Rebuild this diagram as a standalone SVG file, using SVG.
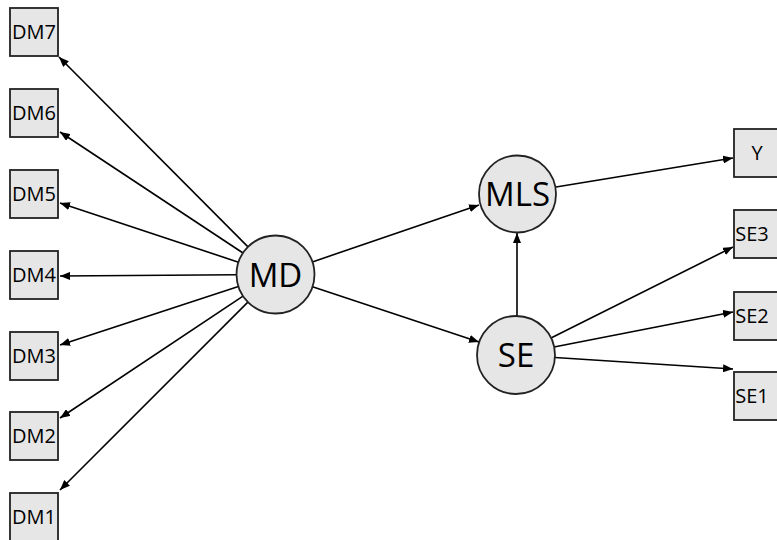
<svg xmlns="http://www.w3.org/2000/svg" width="777" height="540" viewBox="0 0 777 540">
  <defs>
    <marker id="arrow" markerUnits="userSpaceOnUse" markerWidth="10" markerHeight="8" refX="10" refY="4" orient="auto">
      <path d="M0,0 L10,4 L0,8 z" fill="#000"/>
    </marker>
    <style>
      .box { fill: #e6e6e6; stroke: #222; stroke-width: 1.8; }
      .circ { fill: #e6e6e6; stroke: #222; stroke-width: 1.8; }
      .lbl { font-family: "Open Sans", "Noto Sans", sans-serif; font-size: 20px; fill: #000; text-anchor: middle; }
      .big { font-family: "Open Sans", "Noto Sans", sans-serif; font-size: 33px; fill: #000; text-anchor: middle; }
      .edge { stroke: #000; stroke-width: 1.6; fill: none; marker-end: url(#arrow); }
    </style>
  </defs>
  <rect width="777" height="540" fill="#fff"/>

  <g id="connectors">
    <line class="edge" x1="248.0" y1="246.9" x2="59" y2="57"/>
    <line class="edge" x1="243.0" y1="253.0" x2="60" y2="132"/>
    <line class="edge" x1="238.5" y1="262.2" x2="60" y2="203"/>
    <line class="edge" x1="236.5" y1="274.8" x2="60" y2="276"/>
    <line class="edge" x1="238.4" y1="286.6" x2="60" y2="345"/>
    <line class="edge" x1="243.0" y1="296.1" x2="60" y2="418"/>
    <line class="edge" x1="247.9" y1="302.1" x2="60" y2="490"/>
    <line class="edge" x1="312.4" y1="261.9" x2="479" y2="205"/>
    <line class="edge" x1="312.5" y1="286.8" x2="479" y2="342"/>
    <line class="edge" x1="517" y1="316" x2="517" y2="233"/>
    <line class="edge" x1="556" y1="187" x2="733" y2="158"/>
    <line class="edge" x1="551" y1="338" x2="733" y2="247"/>
    <line class="edge" x1="554" y1="347" x2="733" y2="312"/>
    <line class="edge" x1="555" y1="357.5" x2="733" y2="369"/>
  </g>

  <g id="DM7"><rect class="box" x="10" y="8" width="48" height="48"/><text class="lbl" x="34" y="39">DM7</text></g>
  <g id="DM6"><rect class="box" x="10" y="89" width="48" height="48"/><text class="lbl" x="34" y="120">DM6</text></g>
  <g id="DM5"><rect class="box" x="10" y="170" width="48" height="48"/><text class="lbl" x="34" y="201">DM5</text></g>
  <g id="DM4"><rect class="box" x="10" y="251" width="48" height="48"/><text class="lbl" x="34" y="282">DM4</text></g>
  <g id="DM3"><rect class="box" x="10" y="332" width="48" height="48"/><text class="lbl" x="34" y="363">DM3</text></g>
  <g id="DM2"><rect class="box" x="10" y="412" width="48" height="48"/><text class="lbl" x="34" y="443">DM2</text></g>
  <g id="DM1"><rect class="box" x="10" y="493" width="48" height="48"/><text class="lbl" x="34" y="524">DM1</text></g>

  <g id="MD"><circle class="circ" cx="275.5" cy="274.5" r="39"/><text class="big" x="275.5" y="286.5">MD</text></g>
  <g id="MLS"><circle class="circ" cx="517.5" cy="194" r="38.5"/><text class="big" x="517.5" y="206">MLS</text></g>
  <g id="SE"><circle class="circ" cx="516" cy="355" r="39"/><text class="big" x="516" y="367">SE</text></g>

  <g id="Y"><rect class="box" x="734" y="129" width="48" height="48"/><text class="lbl" x="757" y="159.5">Y</text></g>
  <g id="SE3"><rect class="box" x="734" y="210" width="48" height="48"/><text class="lbl" x="752" y="240.5">SE3</text></g>
  <g id="SE2"><rect class="box" x="734" y="292" width="48" height="48"/><text class="lbl" x="752" y="322.5">SE2</text></g>
  <g id="SE1"><rect class="box" x="734" y="372" width="48" height="48"/><text class="lbl" x="752" y="402.5">SE1</text></g>
</svg>
